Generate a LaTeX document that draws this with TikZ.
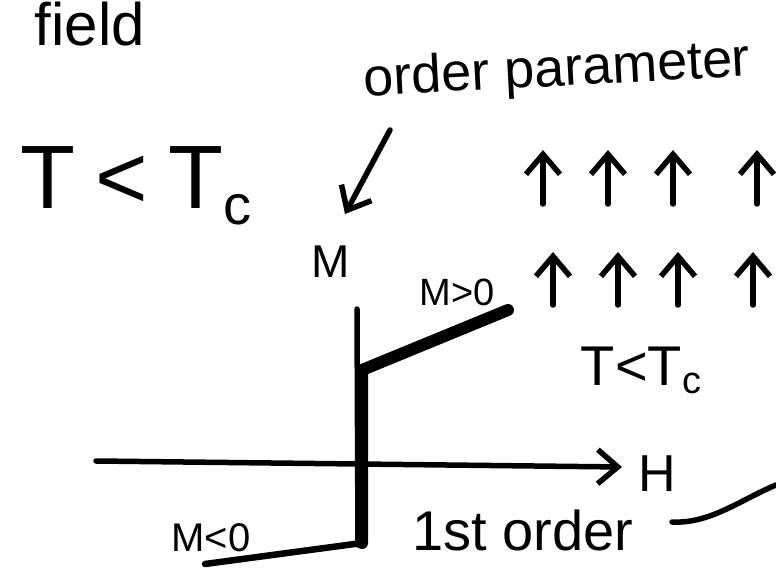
\documentclass[tikz,border=0pt]{standalone}
\usepackage{fontspec}
\setmainfont{Liberation Sans}
\usetikzlibrary{arrows.meta}
\tikzset{
  pen/.style={line width=5.5pt, line cap=round, line join=round},
  heavy/.style={line width=12pt, line cap=round, line join=round},
  barb/.style={-{Straight Barb[length=20pt,width=34pt,line width=5.5pt]}},
  spin/.style={pen, barb},
  hand/.style={inner sep=0pt, anchor=center},
}
\begin{document}
\begin{tikzpicture}[x=1pt,y=-1pt]
\useasboundingbox (0,0) rectangle (776,569);
% texts
\node[hand, anchor=base, font=\fontsize{60}{60}\selectfont] (field) at (90,46) {field};
\node[hand, font=\fontsize{54}{54}\selectfont, rotate=3] (op) at (557,72) {order parameter};
\node[hand, font=\fontsize{90}{90}\selectfont] (tlt) at (136,186) {T\hspace{20pt}<\hspace{20pt}T\raisebox{-16pt}{\fontsize{56}{56}\selectfont c}};
\node[hand, font=\fontsize{46}{46}\selectfont] (M) at (331,262) {M};
\node[hand, font=\fontsize{38}{38}\selectfont] (mpos) at (457,292) {M>0};
\node[hand, font=\fontsize{56}{56}\selectfont] (tlt2) at (641,370) {T<T\raisebox{-8pt}{\fontsize{38}{38}\selectfont c}};
\node[hand, font=\fontsize{52}{52}\selectfont] (H) at (657,474) {H};
\node[hand, font=\fontsize{40}{40}\selectfont] (mneg) at (211,538) {M<0};
\node[hand, font=\fontsize{56}{56}\selectfont] (first) at (523,530) {1st order};
% order parameter arrow
\coordinate (opa) at (390,130);
\coordinate (opb) at (345,214);
\draw[pen, barb] (opa) -- (opb);
% spins
\foreach \x/\n in {543/1,608/2,673/3,757/4}{
  \coordinate (s\n b) at (\x,204);
  \coordinate (s\n t) at (\x,150);
  \draw[spin] (s\n b) -- (s\n t);
}
\foreach \x/\n in {553/1,618/2,678/3,753/4}{
  \coordinate (r\n b) at (\x,305);
  \coordinate (r\n t) at (\x,252);
  \draw[spin] (r\n b) -- (r\n t);
}
% axes
\coordinate (hl) at (96,461);
\coordinate (hr) at (622,467);
\draw[pen, barb] (hl) -- (hr);
\coordinate (vt) at (357,309);
\coordinate (vb) at (358,545);
\draw[pen] (vt) -- (vb);
% magnetisation curve
\coordinate (jt) at (362,370);
\coordinate (jb) at (362,543);
\coordinate (up) at (508,310);
\coordinate (lo) at (205,564);
\draw[heavy] (up) -- (jt) -- (jb);
\draw[line width=6.5pt, line cap=round, line join=round] (jb) -- (lo);
% side stroke
\coordinate (ca) at (672,522);
\coordinate (cb) at (776,485);
\draw[pen] (ca) .. controls (710,524) and (740,500) .. (cb);
\end{tikzpicture}
\end{document}
